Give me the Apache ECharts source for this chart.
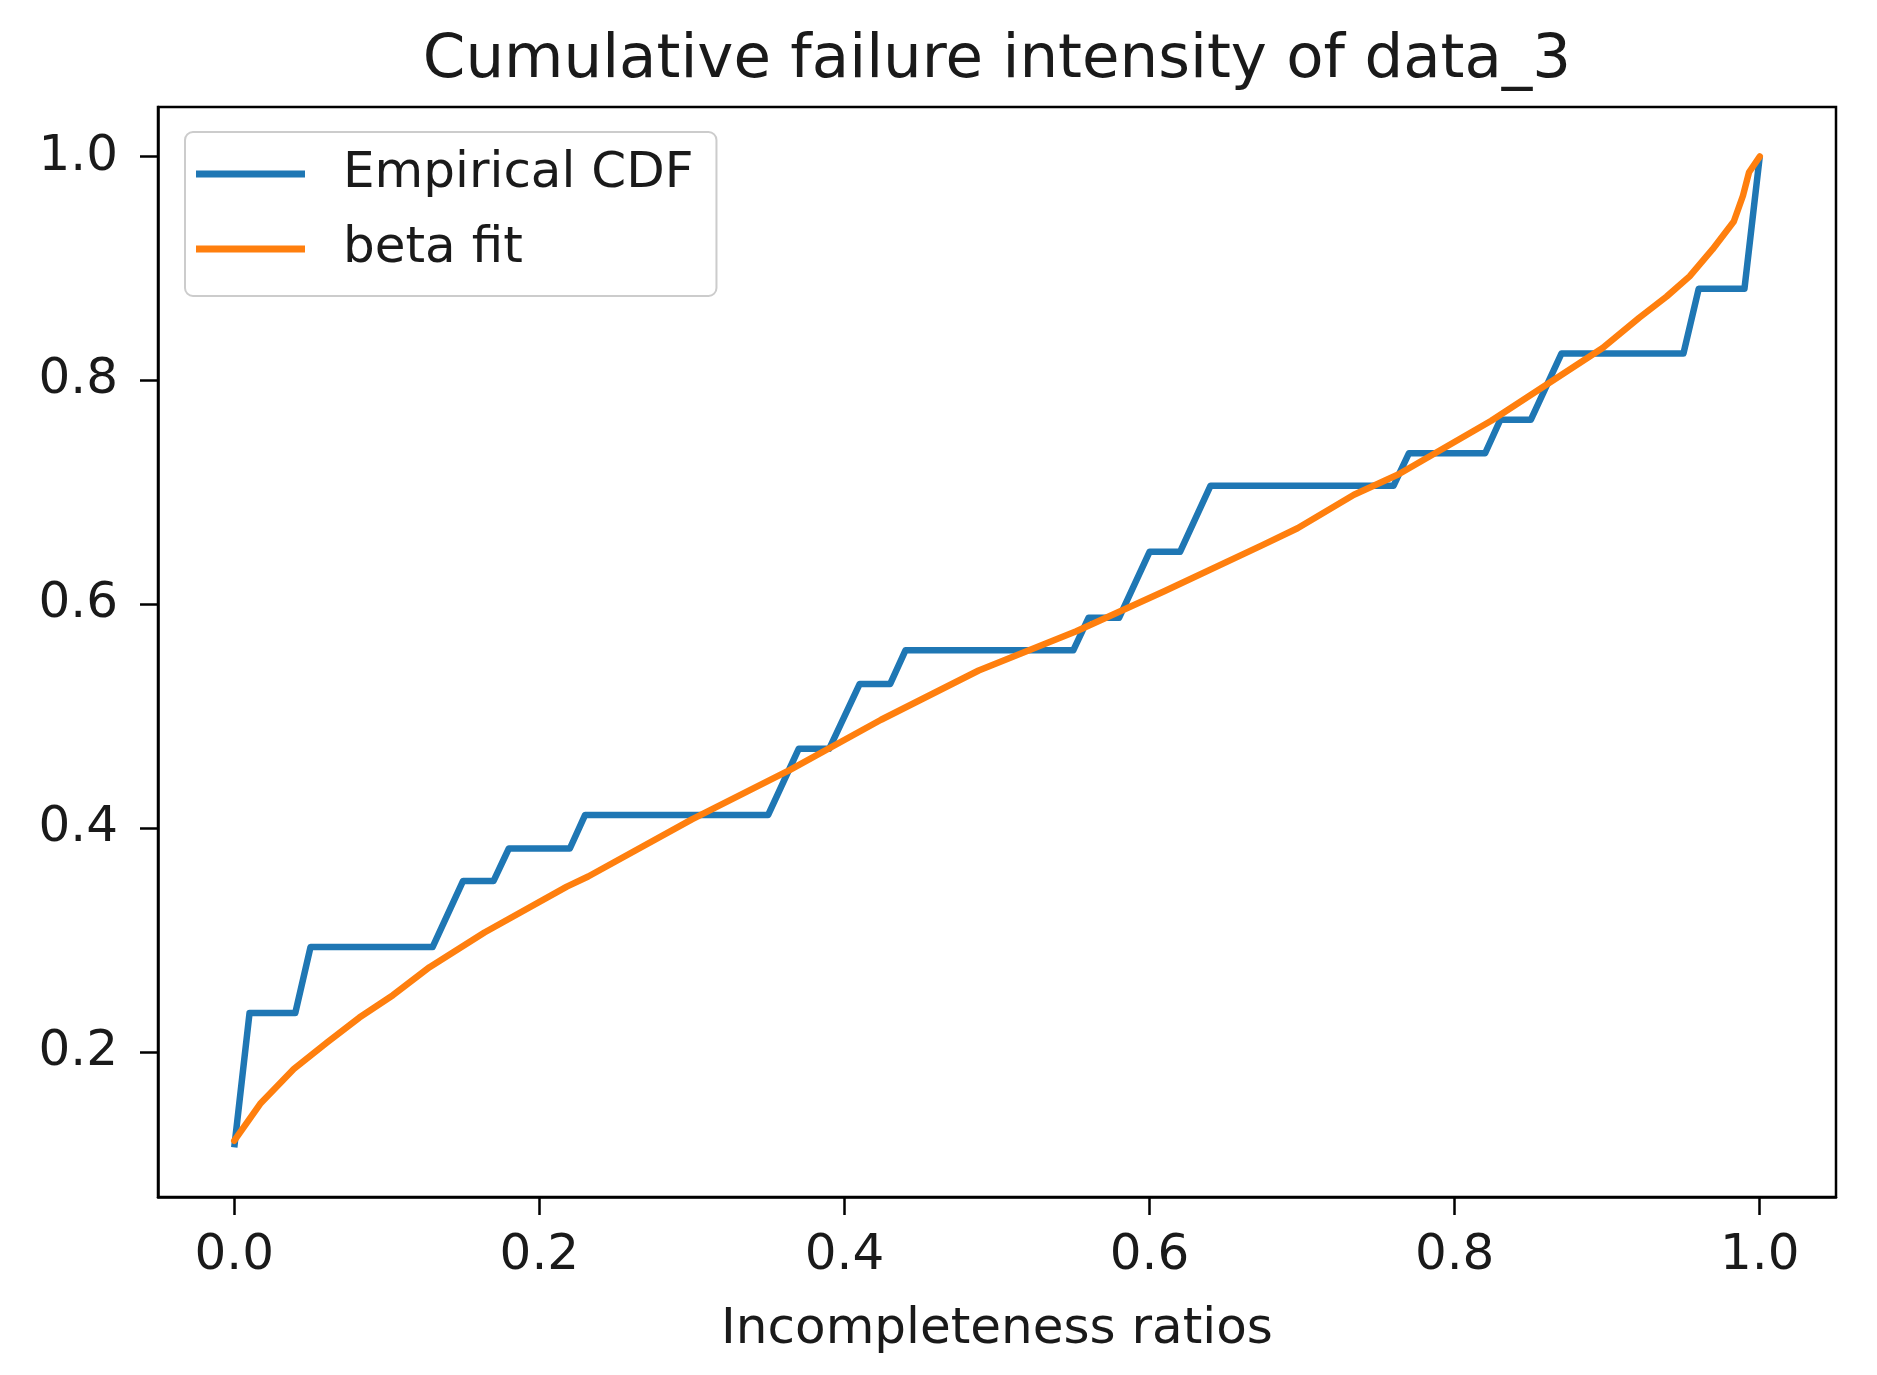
<!DOCTYPE html>
<html>
<head>
<meta charset="utf-8">
<script src="https://cdn.jsdelivr.net/npm/echarts@6/dist/echarts.min.js"></script>
<style>
  html, body { margin: 0; padding: 0; background: #fff; }
  #chart { width: 1877px; height: 1375px; }
</style>
</head>
<body>
<div id="chart"></div>
<script>
// ---- data ----
const chartTitle = 'Cumulative failure intensity of data_3';
const xAxisName = 'Incompleteness ratios';
const seriesNames = ['Empirical CDF', 'beta fit'];

const empX = [0, 0.01, 0.04, 0.05, 0.13, 0.15, 0.17, 0.18, 0.22, 0.23, 0.35, 0.37, 0.39, 0.41, 0.43, 0.44,
              0.55, 0.56, 0.58, 0.60, 0.62, 0.64, 0.76, 0.77, 0.82, 0.83, 0.85, 0.87, 0.95, 0.96, 0.99, 1.0];
const empY = [0.115, 0.235, 0.235, 0.294, 0.294, 0.353, 0.353, 0.382, 0.382, 0.412, 0.412, 0.471, 0.471, 0.529, 0.529, 0.559,
              0.559, 0.588, 0.588, 0.647, 0.647, 0.706, 0.706, 0.735, 0.735, 0.765, 0.765, 0.824, 0.824, 0.882, 0.882, 1.0];

const fitX = [0, 0.017, 0.039, 0.061, 0.082, 0.104, 0.128, 0.164, 0.218, 0.232, 0.30, 0.364, 0.424, 0.488,
              0.552, 0.61, 0.674, 0.697, 0.734, 0.763, 0.824, 0.897, 0.921, 0.939, 0.954, 0.969, 0.983, 0.989, 0.993, 1.0];
const fitY = [0.121, 0.154, 0.185, 0.209, 0.231, 0.251, 0.276, 0.307, 0.348, 0.357, 0.408, 0.452, 0.497, 0.541,
              0.576, 0.612, 0.653, 0.668, 0.698, 0.716, 0.764, 0.829, 0.856, 0.875, 0.893, 0.917, 0.942, 0.965, 0.986, 1.0];

const xTicks = [0.0, 0.2, 0.4, 0.6, 0.8, 1.0];
const yTicks = [0.2, 0.4, 0.6, 0.8, 1.0];

// matplotlib-like 5% margins
const allX = empX.concat(fitX), allY = empY.concat(fitY);
const xMin0 = Math.min(...allX), xMax0 = Math.max(...allX);
const yMin0 = Math.min(...allY), yMax0 = Math.max(...allY);
const xPad = 0.05 * (xMax0 - xMin0), yPad = 0.05 * (yMax0 - yMin0);

const FONT = "'DejaVu Sans', 'Liberation Sans', sans-serif";
const TXT = '#1a1a1a';

const chart = echarts.init(document.getElementById('chart'), null, { renderer: 'canvas' });
chart.setOption({
  animation: false,
  backgroundColor: '#ffffff',
  textStyle: { fontFamily: FONT },
  title: {
    text: chartTitle,
    left: 997, top: 31, padding: 0, textAlign: 'center',
    textStyle: { fontFamily: FONT, fontSize: 61, fontWeight: 'normal', color: TXT, lineHeight: 61 }
  },
  legend: {
    orient: 'vertical',
    left: 185, top: 132,
    padding: [17, 23, 22, 11],
    icon: 'rect',
    itemWidth: 109, itemHeight: 7, itemGap: 25,
    borderColor: '#cccccc', borderWidth: 2, borderRadius: 8,
    backgroundColor: 'rgba(255,255,255,0.8)',
    textStyle: { fontFamily: FONT, fontSize: 50, color: TXT, lineHeight: 50, padding: [0, 0, 0, 33] },
    data: seriesNames
  },
  grid: {
    left: 158, right: 41, top: 107, bottom: 178,
    show: true, borderColor: '#000', borderWidth: 2.5, backgroundColor: 'transparent'
  },
  xAxis: {
    type: 'value',
    min: xMin0 - xPad, max: xMax0 + xPad,
    name: xAxisName, nameLocation: 'middle', nameGap: 108,
    nameTextStyle: { fontFamily: FONT, fontSize: 50, color: TXT, lineHeight: 50 },
    axisLine: { show: true, onZero: false, lineStyle: { color: '#000', width: 2.5 } },
    splitLine: { show: false },
    axisTick: { show: true, length: 18, customValues: xTicks, lineStyle: { color: '#000', width: 2.5 } },
    axisLabel: { show: true, customValues: xTicks, margin: 34, fontFamily: FONT, fontSize: 50, color: TXT, lineHeight: 50,
                 formatter: v => v.toFixed(1) }
  },
  yAxis: {
    type: 'value',
    min: yMin0 - yPad, max: yMax0 + yPad,
    axisLine: { show: true, onZero: false, lineStyle: { color: '#000', width: 2.5 } },
    splitLine: { show: false },
    axisTick: { show: true, length: 18, customValues: yTicks, lineStyle: { color: '#000', width: 2.5 } },
    axisLabel: { show: true, customValues: yTicks, margin: 40, fontFamily: FONT, fontSize: 50, color: TXT, lineHeight: 50,
                 formatter: v => v.toFixed(1) }
  },
  series: [
    {
      name: seriesNames[0], type: 'line', symbol: 'none', showSymbol: false, smooth: false,
      data: empX.map((x, i) => [x, empY[i]]),
      lineStyle: { color: '#1f77b4', width: 6.5, join: 'round', cap: 'butt' },
      itemStyle: { color: '#1f77b4' }
    },
    {
      name: seriesNames[1], type: 'line', symbol: 'none', showSymbol: false, smooth: false,
      data: fitX.map((x, i) => [x, fitY[i]]),
      lineStyle: { color: '#ff7f0e', width: 6.5, join: 'round', cap: 'round' },
      itemStyle: { color: '#ff7f0e' }
    }
  ]
});
</script>
</body>
</html>
